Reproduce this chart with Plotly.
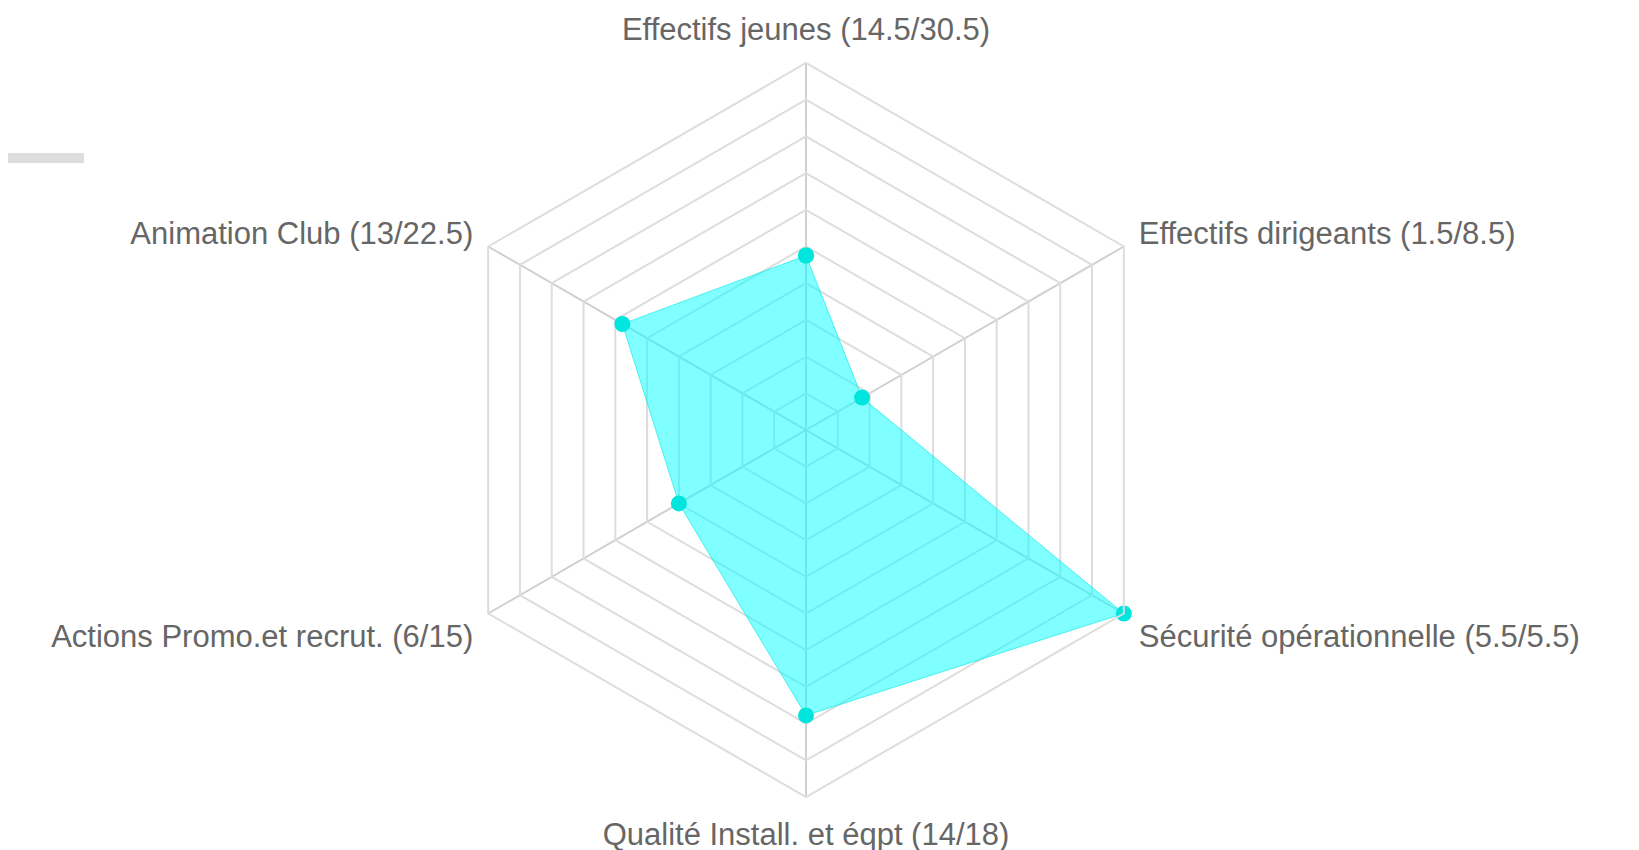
import plotly.graph_objects as go

categories = [
    "Effectifs jeunes (14.5/30.5)",
    "Effectifs dirigeants (1.5/8.5)",
    "Sécurité opérationnelle (5.5/5.5)",
    "Qualité Install. et éqpt (14/18)",
    "Actions Promo.et recrut. (6/15)",
    "Animation Club (13/22.5)",
]
scores = [14.5, 1.5, 5.5, 14, 6, 13]
maxima = [30.5, 8.5, 5.5, 18, 15, 22.5]

ratios = [s / m for s, m in zip(scores, maxima)]

W, H = 1639, 850
L, R, T, B = 74, 117, 55, 61
PW, PH = W - L - R, H - T - B

fig = go.Figure()
fig.add_trace(go.Scatterpolar(
    r=ratios + ratios[:1],
    theta=categories + categories[:1],
    mode="lines+markers",
    fill="toself",
    fillcolor="rgba(0,255,255,0.5)",
    line=dict(color="rgba(0,230,225,0.6)", width=1),
    marker=dict(color="#00E5DD", size=16),
    showlegend=False,
))

line_y = (H - B - 150) / PH
fig.update_layout(
    width=W, height=H,
    paper_bgcolor="white",
    plot_bgcolor="white",
    margin=dict(l=L, r=R, t=T, b=B),
    font=dict(family="Liberation Sans, Arial, sans-serif", size=31, color="#666666"),
    polar=dict(
        bgcolor="white",
        gridshape="linear",
        domain=dict(x=[0, 1], y=[0, 1]),
        radialaxis=dict(
            range=[0, 1], dtick=0.1, showticklabels=False, ticks="",
            showline=False, gridcolor="#dddddd", gridwidth=2,
        ),
        angularaxis=dict(
            rotation=90, direction="clockwise",
            gridcolor="#d0d0d0", gridwidth=2,
            showline=True, linecolor="#dddddd", linewidth=2,
            ticks="outside", ticklen=10, tickcolor="rgba(0,0,0,0)",
            tickfont=dict(size=31, color="#666666"),
        ),
    ),
    shapes=[dict(type="line", xref="paper", yref="paper",
                 x0=(-L - 10) / PW, x1=(76 - L) / PW, y0=line_y, y1=line_y,
                 line=dict(color="#dddddd", width=10))],
)

fig.write_html("out.html")
